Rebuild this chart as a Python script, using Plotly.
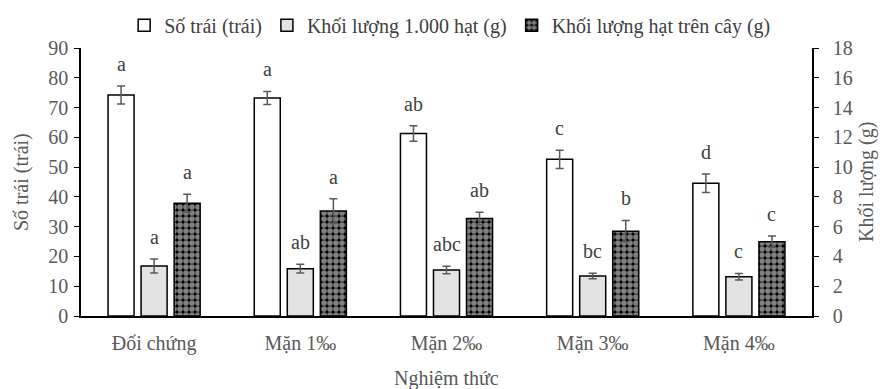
import plotly.graph_objects as go

categories = ["Đối chứng", "Mặn 1‰", "Mặn 2‰", "Mặn 3‰", "Mặn 4‰"]
so_trai = [74.2, 73.2, 61.3, 52.6, 44.6]
so_trai_err = [3.0, 2.2, 2.6, 3.1, 3.1]
kl_1000 = [3.36, 3.18, 3.09, 2.69, 2.64]
kl_1000_err = [0.47, 0.30, 0.25, 0.18, 0.22]
kl_cay = [7.57, 7.05, 6.55, 5.70, 4.99]
kl_cay_err = [0.6, 0.83, 0.42, 0.72, 0.38]
letters_so_trai = ["a", "a", "ab", "c", "d"]
letters_1000 = ["a", "ab", "abc", "bc", "c"]
letters_cay = ["a", "a", "ab", "b", "c"]

FONT = "Liberation Serif"
GREY = "#595959"
FS = 20
BW = 0.178
CENTERS = [-0.226, 0.0, 0.226]

fig = go.Figure()
err_style = dict(type="data", color=GREY, thickness=1.5, width=4, visible=True)

fig.add_trace(go.Bar(
    x=categories, y=so_trai, name="Số trái (trái)", yaxis="y",
    width=BW, offset=CENTERS[0] - BW / 2,
    marker=dict(color="white", line=dict(color="black", width=1.5)),
    error_y=dict(array=so_trai_err, **err_style),
))
fig.add_trace(go.Bar(
    x=categories, y=kl_1000, name="Khối lượng 1.000 hạt (g)", yaxis="y2",
    width=BW, offset=CENTERS[1] - BW / 2,
    marker=dict(color="white", line=dict(color="black", width=1.5),
                pattern=dict(shape=".", fgcolor="#9a9a9a", bgcolor="#ececec",
                             size=2, solidity=0.3)),
    error_y=dict(array=kl_1000_err, **err_style),
))
fig.add_trace(go.Bar(
    x=categories, y=kl_cay, name="Khối lượng hạt trên cây (g)", yaxis="y2",
    width=BW, offset=CENTERS[2] - BW / 2,
    marker=dict(color="black", line=dict(color="black", width=1.5),
                pattern=dict(shape=".", fgcolor="white", bgcolor="black",
                             size=6, solidity=0.7)),
    error_y=dict(array=kl_cay_err, **err_style),
))

annotations = []
for i in range(len(categories)):
    for vals, errs, labs, ax, c in [
        (so_trai, so_trai_err, letters_so_trai, "y", CENTERS[0]),
        (kl_1000, kl_1000_err, letters_1000, "y2", CENTERS[1]),
        (kl_cay, kl_cay_err, letters_cay, "y2", CENTERS[2]),
    ]:
        annotations.append(dict(
            x=i + c, y=vals[i] + errs[i], xref="x", yref=ax,
            text=labs[i], showarrow=False, yanchor="middle", yshift=22,
            font=dict(family=FONT, size=FS, color="#404040"),
        ))

annotations.append(dict(
    text="Số trái (trái)", xref="paper", yref="paper", x=0, y=0.5,
    xshift=-60, textangle=-90, showarrow=False, xanchor="center", yanchor="middle",
    font=dict(family=FONT, size=FS, color=GREY)))
annotations.append(dict(
    text="Khối lượng (g)", xref="paper", yref="paper", x=1, y=0.5,
    xshift=54, textangle=-90, showarrow=False, xanchor="center", yanchor="middle",
    font=dict(family=FONT, size=FS, color=GREY)))
annotations.append(dict(
    text="Nghiệm thức", xref="paper", yref="paper", x=0.5, y=0,
    yshift=-62, showarrow=False, xanchor="center", yanchor="middle",
    font=dict(family=FONT, size=FS, color=GREY)))

fig.update_layout(
    width=880, height=389,
    margin=dict(l=81, r=68, t=48, b=73, autoexpand=False),
    paper_bgcolor="white", plot_bgcolor="white",
    barmode="overlay",
    font=dict(family=FONT, size=FS, color=GREY),
    showlegend=True,
    legend=dict(orientation="h", x=0.505, xanchor="center", xref="paper",
                y=1.085, yref="paper", yanchor="middle",
                font=dict(family=FONT, size=FS, color="#404040"),
                itemwidth=30, traceorder="normal"),
    xaxis=dict(type="category", showline=True, linecolor="black", linewidth=1.5,
               ticks="", showgrid=False, ticklabelstandoff=8, automargin=False,
               tickfont=dict(family=FONT, size=FS, color=GREY)),
    yaxis=dict(range=[0, 90], dtick=10, showline=True, linecolor="black", linewidth=1.5,
               ticks="outside", ticklen=5, tickcolor="black", showgrid=False, zeroline=False,
               automargin=False, ticklabelstandoff=2,
               tickfont=dict(family=FONT, size=FS, color=GREY)),
    yaxis2=dict(range=[0, 18], dtick=2, overlaying="y", side="right",
                showline=True, linecolor="black", linewidth=1.5,
                ticks="outside", ticklen=5, tickcolor="black", showgrid=False, zeroline=False,
                ticklabelstandoff=10, automargin=False,
                tickfont=dict(family=FONT, size=FS, color=GREY)),
    annotations=annotations,
)

fig.write_html("out.html", config={"displayModeBar": False},
               post_script="document.body.style.margin='0';document.body.style.overflow='hidden';")
